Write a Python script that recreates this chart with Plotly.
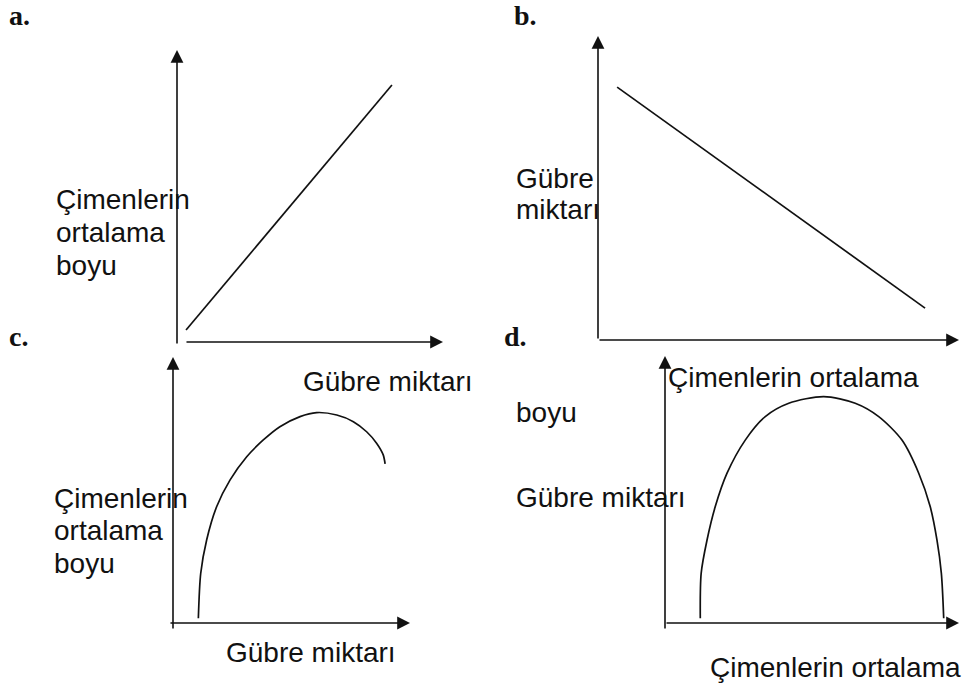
"""Four sketch panels (a-d): grass height vs. fertiliser amount, redrawn in Plotly."""

import plotly.graph_objects as go

W, H = 964, 689

# --- curve data, in each panel's own 0..10 units ---------------------------
a_x = [0.34, 8.08]
a_y = [0.41, 8.80]

b_x = [0.53, 9.06]
b_y = [8.32, 1.05]

c_x = [1.07, 1.17, 1.42, 1.84, 2.41, 3.11, 3.81, 4.51, 5.36, 6.06,
       6.91, 7.61, 8.17, 8.59, 8.87, 8.95]
c_y = [0.18, 1.87, 3.12, 4.37, 5.38, 6.25, 6.88, 7.38, 7.76, 7.91,
       7.82, 7.57, 7.19, 6.76, 6.32, 5.98]

d_x = [1.20, 1.23, 1.43, 1.71, 2.11, 2.73, 3.41, 4.21, 5.40, 6.47,
       7.27, 8.06, 8.63, 9.02, 9.25, 9.40, 9.48]
d_y = [0.18, 1.86, 3.11, 4.36, 5.61, 6.85, 7.73, 8.23, 8.48, 8.23,
       7.73, 6.85, 5.61, 4.36, 3.11, 1.86, 0.18]

# labels
panel_names = ['a.', 'b.', 'c.', 'd.']
lbl_boy = 'Çimenlerin'
lbl_ort = 'ortalama'
lbl_boyu = 'boyu'
lbl_gubre = 'Gübre'
lbl_miktar = 'miktarı'
lbl_gubre_miktar = 'Gübre miktarı'
lbl_cim_ort = 'Çimenlerin ortalama'

# --- layout: pixel frame of each panel (origin x, origin y, x tip, y tip) ---
FRAMES = [
	(177, 342, 443, 50),
	(598, 340, 959, 36),
	(173, 623, 410, 357),
	(665, 623, 959, 356),
]
# where each drawn axis starts (data units): x-axis start, y-axis start
AXIS_START = [(0.3, -0.1), (0.0, 0.0), (-0.17, -0.26), (0.0, -0.26)]

SANS = 'Liberation Sans, Arial, Helvetica, sans-serif'
SERIF = 'Liberation Serif, Times New Roman, serif'
INK = '#111111'


def paper(x, y):
	return x / W, 1 - y / H


fig = go.Figure()

for i, (ox, oy, xt, yt) in enumerate(FRAMES, start=1):
	sfx = '' if i == 1 else str(i)
	x0, y0 = paper(ox, oy)
	x1, y1 = paper(xt, yt)
	fig.update_layout({
		f'xaxis{sfx}': dict(domain=[x0, x1], range=[0, 10], visible=False,
			anchor=f'y{sfx}', fixedrange=True),
		f'yaxis{sfx}': dict(domain=[y0, y1], range=[0, 10], visible=False,
			anchor=f'x{sfx}', fixedrange=True),
	})
	# axis arrows
	xs, ys = AXIS_START[i - 1]
	xr, yr = f'x{sfx}', f'y{sfx}'
	for tip, tail in (((10, 0), (xs, 0)), ((0, 10), (0, ys))):
		fig.add_annotation(
			x=tip[0], y=tip[1], ax=tail[0], ay=tail[1],
			xref=xr, yref=yr, axref=xr, ayref=yr, text='',
			showarrow=True, arrowhead=2, arrowsize=1.6, arrowwidth=1.6,
			arrowcolor=INK, standoff=0,
		)

for i, (xv, yv) in enumerate([(a_x, a_y), (b_x, b_y), (c_x, c_y), (d_x, d_y)],
		start=1):
	sfx = '' if i == 1 else str(i)
	fig.add_trace(go.Scatter(
		x=xv, y=yv, xaxis=f'x{sfx}', yaxis=f'y{sfx}', mode='lines',
		line=dict(color=INK, width=1.7, shape='spline', smoothing=0.8),
		hoverinfo='skip', showlegend=False,
	))


def text(s, left, baseline, font=SANS, size=28, shift=10, bold=False):
	x, y = paper(left - 1, baseline - shift)
	fig.add_annotation(
		x=x, y=y, xref='paper', yref='paper', xanchor='left', yanchor='middle',
		text=f'<b>{s}</b>' if bold else s, showarrow=False,
		font=dict(family=font, size=size, color=INK),
	)


# panel letters
for name, (lx, ly) in zip(panel_names, [(8, 24), (513, 24), (8, 345), (503, 345)]):
	text(name, lx, ly, font=SERIF, size=28, shift=9, bold=True)

# a
text(lbl_boy, 55, 209)
text(lbl_ort, 55, 243)
text(lbl_boyu, 55, 275)
text(lbl_gubre_miktar, 302, 391)
# b
text(lbl_gubre, 515, 188)
text(lbl_miktar, 515, 220)
text(lbl_cim_ort, 667, 388)
text(lbl_boyu, 515, 422)
# c
text(lbl_boy, 53, 508)
text(lbl_ort, 53, 540)
text(lbl_boyu, 53, 573)
text(lbl_gubre_miktar, 225, 662)
# d
text(lbl_gubre_miktar, 515, 507)
text(lbl_cim_ort, 709, 677)

fig.update_layout(
	width=W, height=H,
	margin=dict(l=0, r=0, t=0, b=0),
	paper_bgcolor='white', plot_bgcolor='white',
	showlegend=False,
)

# the page body has a default 8px margin; drop it so the figure fills the window
fig.write_html('out.html', config={'displayModeBar': False},
	post_script="document.body.style.margin = '0';")
